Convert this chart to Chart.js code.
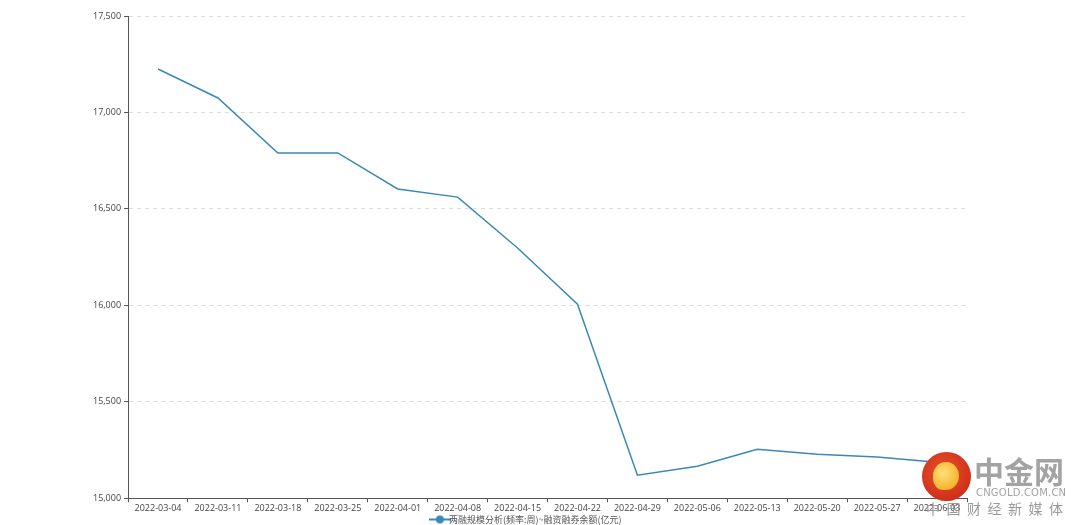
<!DOCTYPE html>
<html>
<head>
<meta charset="utf-8">
<script src="https://cdn.jsdelivr.net/npm/chart.js@4/dist/chart.umd.min.js"></script>
<style>
    html, body { margin: 0; padding: 0; background: #fff; }
    #wrap { position: relative; width: 1080px; height: 525px; }
    #wm { position: absolute; left: 920px; top: 450px; width: 160px; height: 75px; pointer-events: none; }
    #wm .logo {
        position: absolute; left: 2px; top: 2px; width: 49px; height: 49px; border-radius: 50%;
        background: radial-gradient(circle at 45% 40%, #e8542a 0%, #d0301b 70%, #b82314 100%);
    }
    #wm .logo span {
        position: absolute; left: 11px; top: 10px; width: 26px; height: 28px; border-radius: 50% 50% 50% 40%;
        background: radial-gradient(circle at 40% 40%, #ffe07a 0%, #f6b52e 70%, #e88f1c 100%);
    }
    #wm .big { position: absolute; left: 54px; top: -2px; font: bold 30px "Noto Sans CJK SC", sans-serif; color: #a3a3a3; letter-spacing: 0px; }
    #wm .site { position: absolute; left: 56px; top: 37px; font: 10px "DejaVu Sans", sans-serif; color: #a3a3a3; letter-spacing: 0.2px; }
    #wm .slogan { position: absolute; left: 6px; top: 48px; font: 14px "Noto Sans CJK SC", sans-serif; color: #999; letter-spacing: 6.5px; white-space: nowrap; }
</style>
</head>
<body>
<div id="wrap">
    <canvas id="chart" width="1080" height="525"></canvas>
    <div id="wm">
        <div class="logo"><span></span></div>
        <div class="big">中金网</div>
        <div class="site">CNGOLD.COM.CN</div>
        <div class="slogan">中国财经新媒体</div>
    </div>
</div>
<script>
// ---- Data -----------------------------------------------------------------
const dates = [
    "2022-03-04", "2022-03-11", "2022-03-18", "2022-03-25", "2022-04-01",
    "2022-04-08", "2022-04-15", "2022-04-22", "2022-04-29", "2022-05-06",
    "2022-05-13", "2022-05-20", "2022-05-27", "2022-06-03",
];
const balance = [
    17225, 17075, 16790, 16790, 16603,
    16561, 16297, 16006, 15119, 15166,
    15254, 15228, 15213, 15187,
];
const seriesName = "两融规模分析(频率:周)~融资融券余额(亿元)";
const yMin = 15000;
const yMax = 17500;
const yStep = 500;

const LINE = "#3a89b5";

// Legend marker: short line with a dot in the middle
function legendMarker() {
    const c = document.createElement("canvas");
    c.width = 22;
    c.height = 10;
    const g = c.getContext("2d");
    g.strokeStyle = LINE;
    g.lineWidth = 2;
    g.beginPath();
    g.moveTo(0, 5);
    g.lineTo(22, 5);
    g.stroke();
    g.fillStyle = LINE;
    g.beginPath();
    g.arc(11, 5, 4, 0, Math.PI * 2);
    g.fill();
    return c;
}

const tickFont = { family: "'Open Sans', 'Noto Sans CJK SC', sans-serif", size: 9 };

new Chart(document.getElementById("chart"), {
    type: "line",
    data: {
        labels: dates,
        datasets: [{
            label: seriesName,
            data: balance,
            borderColor: LINE,
            backgroundColor: LINE,
            borderWidth: 1.5,
            pointRadius: 0,
            pointHoverRadius: 0,
            pointStyle: legendMarker(),
            tension: 0,
            fill: false,
        }],
    },
    options: {
        responsive: false,
        animation: false,
        layout: { padding: { top: 16, right: 113, left: 90, bottom: -9 } },
        plugins: {
            tooltip: { enabled: false },
            legend: {
                position: "bottom",
                labels: {
                    usePointStyle: true,
                    color: "#555",
                    font: { family: "'Noto Sans CJK SC', sans-serif", size: 9 },
                    padding: 0,
                    boxHeight: 10,
                },
            },
        },
        scales: {
            x: {
                offset: true,
                grid: {
                    offset: true,
                    drawOnChartArea: false,
                    drawTicks: true,
                    tickLength: 4,
                    color: "#555",
                },
                border: { color: "#555", width: 1 },
                ticks: { color: "#444", font: tickFont, maxRotation: 0, autoSkip: false, padding: 1 },
            },
            y: {
                min: yMin,
                max: yMax,
                grid: {
                    color: "#dddddd",
                    tickColor: "#555",
                    tickBorderDash: [],
                    tickLength: 4,
                },
                border: { color: "#555", width: 1, dash: [4, 4] },
                ticks: {
                    stepSize: yStep,
                    color: "#444",
                    font: tickFont,
                    padding: 3,
                    callback: (v) => v.toLocaleString("en-US"),
                },
            },
        },
    },
});
</script>
</body>
</html>
